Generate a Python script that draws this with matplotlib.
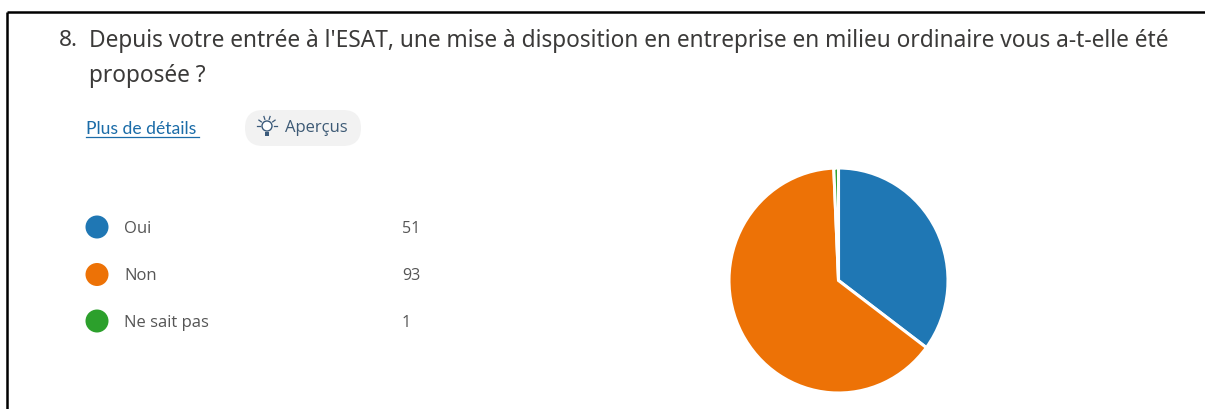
import numpy as np
import matplotlib
matplotlib.use('Agg')
import matplotlib.pyplot as plt
from matplotlib.patches import FancyBboxPatch, Circle, Rectangle

# Réponses à la question 8
categories = ['Oui', 'Non', 'Ne sait pas']
counts = [51, 93, 1]
colors = ['#1f77b4', '#ed7206', '#2ca02c']

question_num = '8.'
question_l1 = "Depuis votre entrée à l'ESAT, une mise à disposition en entreprise en milieu ordinaire vous a-t-elle été"
question_l2 = 'proposée ?'

W, H = 1205, 410
plt.rcParams['font.family'] = ['Open Sans', 'DejaVu Sans']
fig = plt.figure(figsize=(W/100, H/100), dpi=100)

# fond en coordonnées pixels
bg = fig.add_axes([0, 0, 1, 1])
bg.set_xlim(0, W)
bg.set_ylim(H, 0)
bg.axis('off')

# cadre noir (haut et gauche)
bg.plot([7, W], [13, 13], color='black', lw=1.8, solid_capstyle='butt')
bg.plot([7, 7], [13, H], color='black', lw=1.8, solid_capstyle='butt')

# question
txt = '#3b3a39'
q_font = ['Noto Sans', 'DejaVu Sans']
bg.text(59, 41, question_num, fontsize=16.3, color=txt, va='center', family=q_font)
bg.text(89, 41, question_l1, fontsize=16.35, color=txt, va='center', family=q_font)
bg.text(89, 76, question_l2, fontsize=16.35, color=txt, va='center', family=q_font)

# lien et bouton
link = '#1b6ca8'
bg.text(86, 129, 'Plus de détails', fontsize=12.6, color=link, va='center', family=['Lato', 'DejaVu Sans'])
bg.plot([86, 199], [138, 138], color=link, lw=0.9)
bg.add_patch(FancyBboxPatch((245, 111), 116, 36, boxstyle='round,pad=0,rounding_size=18',
                            fc='#f2f2f2', ec='none'))
# ampoule
icon = '#3b5a7a'
bg.add_patch(Circle((267, 127), 5, fc='white', ec=icon, lw=1))
bg.add_patch(Rectangle((265, 133), 4, 4, fc=icon, ec='none'))
for a in np.deg2rad(np.arange(-180, 1, 36)):
    bg.plot([267 + 7*np.cos(a), 267 + 10*np.cos(a)],
            [127 + 7*np.sin(a), 127 + 10*np.sin(a)], color=icon, lw=0.9)
bg.text(285, 128, 'Aperçus', fontsize=12, color='#3d5a75', va='center')

# légende
legend_y = [228, 275.5, 322]
for y, cat, n, c in zip(legend_y, categories, counts, colors):
    bg.add_patch(Circle((97, y), 11.5, fc=c, ec='none'))
    bg.text(124, y + 1, cat, fontsize=12, color='#555555', va='center')
    bg.text(402, y + 1, str(n), fontsize=11.5, color='#555555', va='center')

# camembert
cx, cy, rx, ry = 838.5, 281.5, 109.5, 112.5
ax = fig.add_axes([(cx - rx)/W, 1 - (cy + ry)/H, 2*rx/W, 2*ry/H])
ax.pie(counts, colors=colors, startangle=90, counterclock=False, radius=1,
       wedgeprops={'edgecolor': 'white', 'linewidth': 2.2})
ax.set_aspect('auto')
ax.set_xlim(-1, 1)
ax.set_ylim(-1, 1)

fig.savefig('out.png', dpi=100)
